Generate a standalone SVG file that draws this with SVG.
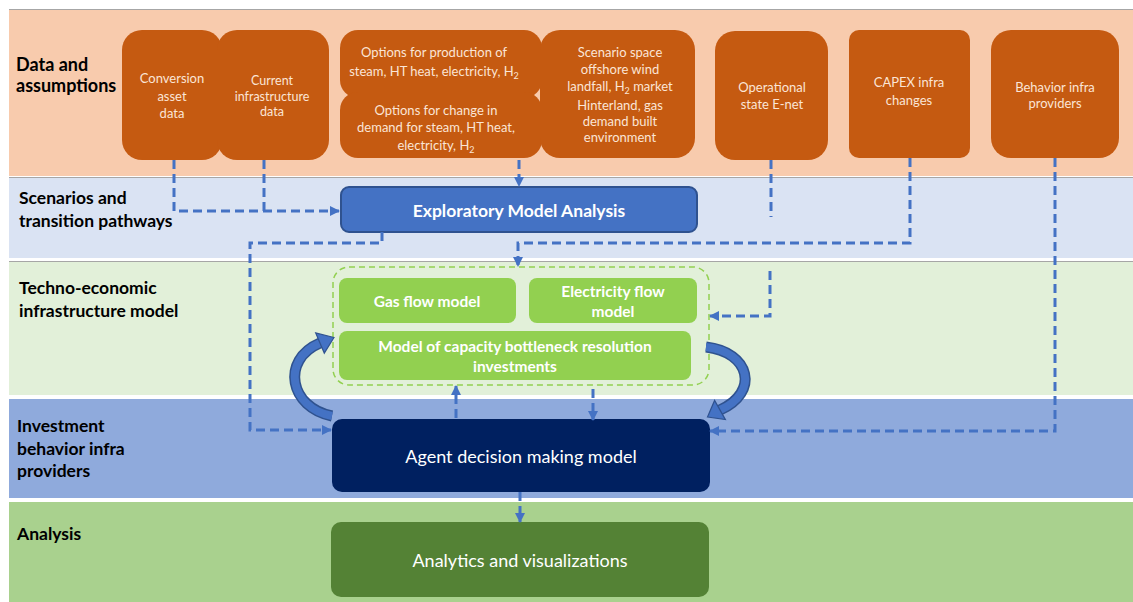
<svg xmlns="http://www.w3.org/2000/svg" width="1133" height="602" viewBox="0 0 1133 602">
<defs>
<style>
.band-label{font-family:Lato,"Liberation Sans",sans-serif;font-weight:bold;font-size:17.5px;fill:#000}
.orange{fill:#C55A11}
.otext{font-family:Lato,"Liberation Sans",sans-serif;font-size:13px;fill:#FBE5D6;text-anchor:middle}
.green{fill:#92D050}
.gtext{font-family:Lato,"Liberation Sans",sans-serif;font-weight:bold;font-size:15.5px;fill:#fff;text-anchor:middle}
.wtext{font-family:Lato,"Liberation Sans",sans-serif;font-size:18px;fill:#fff;text-anchor:middle}
.dash{fill:none;stroke:#4472C4;stroke-width:3;stroke-dasharray:9 5}
.sep{stroke:#A6A6A6;stroke-width:1.2}
</style>
<marker id="ah" viewBox="0 0 10 10" refX="9" refY="5" markerWidth="10" markerHeight="10" markerUnits="userSpaceOnUse" orient="auto">
<path d="M0,0 L10,5 L0,10 z" fill="#4472C4"/>
</marker>
</defs>

<rect width="1133" height="602" fill="#fff"/>

<g id="bands">
<rect x="9" y="9" width="1124" height="167" fill="#F8CBAD"/>
<line x1="9" y1="9.5" x2="1133" y2="9.5" class="sep"/>
<rect x="9" y="178" width="1124" height="80" fill="#DAE3F3"/>
<line x1="9" y1="177.5" x2="1133" y2="177.5" class="sep"/>
<rect x="9" y="262" width="1124" height="133" fill="#E2F0D9"/>
<line x1="9" y1="261.5" x2="1133" y2="261.5" class="sep"/>
<rect x="9" y="399" width="1124" height="99" fill="#8FAADC"/>
<rect x="9" y="502" width="1124" height="100" fill="#A9D18E"/>
<text class="band-label" x="16" y="71" style="font-size:18px">Data and</text>
<text class="band-label" x="16" y="92" style="font-size:18px">assumptions</text>
<text class="band-label" x="19" y="204">Scenarios and</text>
<text class="band-label" x="19" y="227">transition pathways</text>
<text class="band-label" x="19" y="294">Techno-economic</text>
<text class="band-label" x="19" y="317">infrastructure model</text>
<text class="band-label" x="17" y="432">Investment</text>
<text class="band-label" x="17" y="455">behavior infra</text>
<text class="band-label" x="17" y="477">providers</text>
<text class="band-label" x="17" y="540">Analysis</text>
</g>

<g id="n-conversion">
<rect class="orange" x="122" y="30" width="100" height="130" rx="20"/>
<text class="otext" x="172" y="83">Conversion</text>
<text class="otext" x="172" y="101">asset</text>
<text class="otext" x="172" y="118">data</text>
</g>
<g id="n-current">
<rect class="orange" x="217" y="30" width="112" height="130" rx="20"/>
<text class="otext" x="272" y="85" style="font-size:12.5px">Current</text>
<text class="otext" x="272" y="101" style="font-size:12.5px">infrastructure</text>
<text class="otext" x="272" y="116" style="font-size:12.5px">data</text>
</g>
<g id="n-production">
<rect class="orange" x="340" y="30" width="202" height="68" rx="18"/>
<text class="otext" x="434" y="57">Options for production of</text>
<text class="otext" x="434" y="76">steam, HT heat, electricity, H<tspan font-size="9" dy="3">2</tspan></text>
</g>
<g id="n-demand">
<rect class="orange" x="340" y="92" width="202" height="66" rx="18"/>
<text class="otext" x="436" y="115">Options for change in</text>
<text class="otext" x="436" y="132">demand for steam, HT heat,</text>
<text class="otext" x="436" y="150">electricity, H<tspan font-size="9" dy="3">2</tspan></text>
</g>
<g id="n-scenario">
<rect class="orange" x="540" y="30" width="155" height="128" rx="20"/>
<text class="otext" x="620" y="57">Scenario space</text>
<text class="otext" x="620" y="74">offshore wind</text>
<text class="otext" x="620" y="91">landfall, H<tspan font-size="9" dy="3">2</tspan><tspan dy="-3"> market</tspan></text>
<text class="otext" x="620" y="110">Hinterland, gas</text>
<text class="otext" x="620" y="126">demand built</text>
<text class="otext" x="620" y="142">environment</text>
</g>
<g id="n-operational">
<rect class="orange" x="715" y="31" width="113" height="129" rx="20"/>
<text class="otext" x="772" y="92">Operational</text>
<text class="otext" x="772" y="109">state E-net</text>
</g>
<g id="n-capex">
<rect class="orange" x="849" y="30" width="121" height="128" rx="10"/>
<text class="otext" x="909" y="87">CAPEX infra</text>
<text class="otext" x="909" y="105">changes</text>
</g>
<g id="n-behavior">
<rect class="orange" x="991" y="30" width="128" height="128" rx="20"/>
<text class="otext" x="1055" y="92">Behavior infra</text>
<text class="otext" x="1055" y="108">providers</text>
</g>

<g id="n-ema">
<rect x="341" y="187" width="356" height="45" rx="8" fill="#4472C4" stroke="#2F528F" stroke-width="2"/>
<text class="gtext" x="519" y="217" style="font-size:17.5px">Exploratory Model Analysis</text>
</g>

<g id="n-container">
<rect x="333" y="267" width="376" height="118" rx="16" fill="none" stroke="#92D050" stroke-width="1.5" stroke-dasharray="6 4"/>
</g>
<g id="n-gas">
<rect class="green" x="339" y="278" width="177" height="45" rx="8"/>
<text class="gtext" x="427" y="307">Gas flow model</text>
</g>
<g id="n-elec">
<rect class="green" x="529" y="278" width="168" height="45" rx="8"/>
<text class="gtext" x="613" y="297">Electricity flow</text>
<text class="gtext" x="613" y="317">model</text>
</g>
<g id="n-bottleneck">
<rect class="green" x="339" y="331" width="352" height="49" rx="8"/>
<text class="gtext" x="515" y="352">Model of capacity bottleneck resolution</text>
<text class="gtext" x="515" y="372">investments</text>
</g>

<g id="n-agent">
<rect x="332" y="419" width="378" height="73" rx="10" fill="#002060"/>
<text class="wtext" x="521" y="463">Agent decision making model</text>
</g>
<g id="n-analytics">
<rect x="331" y="522" width="378" height="75" rx="10" fill="#548235"/>
<text class="wtext" x="520" y="567">Analytics and visualizations</text>
</g>

<g id="connectors">
<path class="dash" d="M174 160 V211 H339" marker-end="url(#ah)"/>
<path class="dash" d="M264 160 V211"/>
<path class="dash" d="M519 160 V186" marker-end="url(#ah)"/>
<path class="dash" d="M382 232 V243 H250 V430 H331" marker-end="url(#ah)"/>
<path class="dash" d="M910 158 V243 H518 V266" marker-end="url(#ah)"/>
<path class="dash" d="M771 160 V217"/>
<path class="dash" d="M770 271 V316 H710" marker-end="url(#ah)"/>
<path class="dash" d="M1055 158 V431 H710" marker-end="url(#ah)"/>
<path class="dash" d="M456 418 V386" marker-end="url(#ah)"/>
<path class="dash" d="M593 389 V420" marker-end="url(#ah)"/>
<path class="dash" d="M520 492 V522" marker-end="url(#ah)"/>
<path d="M332 416 C290 408 280 360 320 343" fill="none" stroke="#2F528F" stroke-width="11"/>
<path d="M332 416 C290 408 280 360 320 343" fill="none" stroke="#4472C4" stroke-width="8"/>
<polygon points="334,337.5 315.7,332.9 324.3,353.1" fill="#4472C4" stroke="#2F528F" stroke-width="1.2"/>
<path d="M706 347 C750 352 760 392 720 410" fill="none" stroke="#2F528F" stroke-width="11"/>
<path d="M706 347 C750 352 760 392 720 410" fill="none" stroke="#4472C4" stroke-width="8"/>
<polygon points="707.5,417 725.4,419.6 714.6,400.4" fill="#4472C4" stroke="#2F528F" stroke-width="1.2"/>
</g>
</svg>
